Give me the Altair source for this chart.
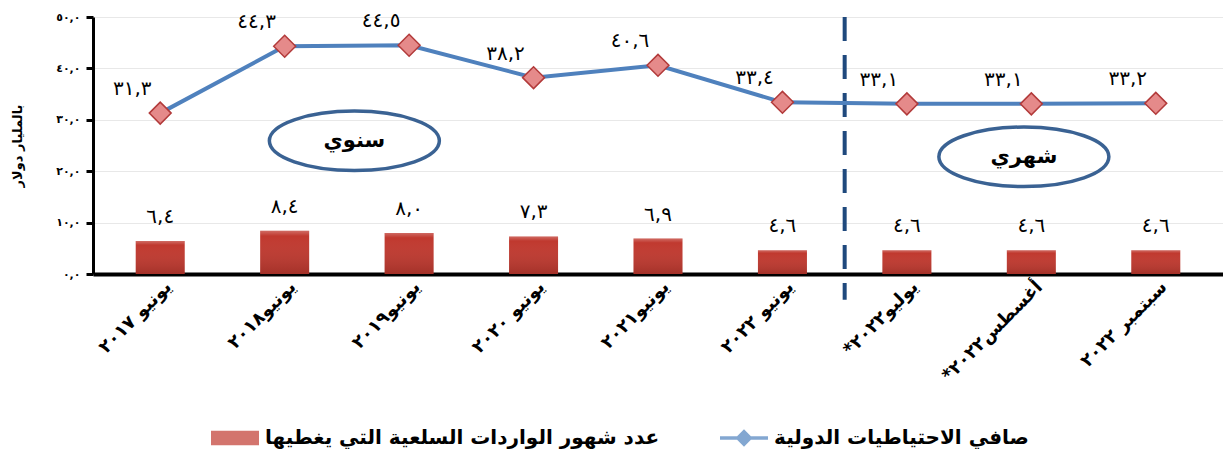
import json
import altair as alt
import pandas as pd

# ---------------- data ----------------
RLM = "\u200f"
categories = ["يونيو ٢٠١٧", "يونيو٢٠١٨", "يونيو٢٠١٩", "يونيو ٢٠٢٠", "يونيو٢٠٢١",
              "يونيو ٢٠٢٢", "يوليو٢٠٢٢*" + RLM, "أغسطس٢٠٢٢*" + RLM, "سبتمبر ٢٠٢٢"]
reserves = [31.3, 44.3, 44.5, 38.2, 40.6, 33.4, 33.1, 33.1, 33.2]
months_cover = [6.4, 8.4, 8.0, 7.3, 6.9, 4.6, 4.6, 4.6, 4.6]
y_ticks = [0, 10, 20, 30, 40, 50]
series_names = ["عدد شهور الواردات السلعية التي يغطيها", "صافي الاحتياطيات الدولية"]
y_title = "بالمليار دولار"
period_labels = ["سنوي", "شهري"]
period_x = [1.56, 6.94]
period_y = [25.9, 22.8]

AR = str.maketrans("0123456789", "٠١٢٣٤٥٦٧٨٩")


def ar_num(v):
    return f"{v:.1f}".replace(".", ",").translate(AR)


y_tick_labels = [ar_num(v) for v in y_ticks]

df = pd.DataFrame({
    "idx": list(range(len(categories))),
    "cat": categories,
    "reserves": reserves,
    "months": months_cover,
    "res_lbl": [ar_num(v) for v in reserves],
    "mon_lbl": [ar_num(v) for v in months_cover],
})
df_div = pd.DataFrame({"idx": [(5 + 6) / 2], "top": [50], "bottom": [-5]})
df_per = pd.DataFrame({"idx": period_x, "val": period_y, "txt": period_labels})

# ---------------- styles ----------------
FONT = "DejaVu Sans"
BAR = "#C0392F"
LINE = "#4F81BD"
NAVY = "#1F497D"

x_scale = alt.Scale(domain=[-0.5, len(categories) - 0.5], nice=False, zero=False)
y_scale = alt.Scale(domain=[0, 50], nice=False)

x_axis = alt.Axis(
    values=list(range(len(categories))),
    labelExpr=f"{json.dumps(categories, ensure_ascii=False)}[datum.value]",
    labelAngle=315, labelAlign="right", labelBaseline="middle",
    labelFont=FONT, labelFontSize=18, labelFontWeight="bold", labelColor="black",
    labelPadding=10, labelOffset=8, labelLimit=300,
    ticks=False, grid=False, domainColor="black", domainWidth=4, title=None,
)
y_axis = alt.Axis(
    values=y_ticks,
    labelExpr=f"{json.dumps(y_tick_labels, ensure_ascii=False)}[indexof({json.dumps(y_ticks)}, datum.value)]",
    labelFont=FONT, labelFontSize=11, labelFontWeight="bold", labelColor="black",
    labelPadding=6, tickSize=7, tickWidth=3, tickColor="black",
    domainColor="black", domainWidth=3, grid=True, gridColor="#E8E8E8", gridWidth=1,
    title=y_title, titleFont=FONT, titleFontSize=13, titleFontWeight="bold",
    titleColor="black", titlePadding=31,
)

X = alt.X("idx:Q", scale=x_scale, axis=x_axis)


def Y(field):
    return alt.Y(f"{field}:Q", scale=y_scale, axis=y_axis)


legend = alt.Legend(
    title=None, orient="none", legendX=118, legendY=397, direction="horizontal",
    labelFont=FONT, labelFontSize=20, labelFontWeight="bold", labelColor="black",
    symbolSize=2304, columnPadding=60, labelLimit=700, labelOffset=6,
    symbolStrokeWidth=0,
)
rect_path = "M-1,-0.3H1V0.3H-1Z"
line_path = "M-1,-0.07H1V0.07H-1Z M0,-0.36L0.36,0L0,0.36L-0.36,0Z"
color_enc = alt.Color("series:N", scale=alt.Scale(domain=series_names, range=[BAR, LINE]), legend=legend)
shape_enc = alt.Shape("series:N", scale=alt.Scale(domain=series_names, range=[rect_path, line_path]), legend=legend)

base = alt.Chart(df)

bars = base.transform_calculate(series=f"'{series_names[0]}'").mark_bar(size=49).encode(
    x=X, y=Y("months"), color=color_enc)

shine = base.mark_bar(size=49, fill=alt.Gradient(
    gradient="linear", x1=0, x2=0, y1=0, y2=1,
    stops=[alt.GradientStop(offset=0, color="rgba(255,255,255,0.25)"),
           alt.GradientStop(offset=0.12, color="rgba(255,255,255,0.0)"),
           alt.GradientStop(offset=1, color="rgba(0,0,0,0.15)")])).encode(x=X, y=Y("months"))

legend_layer = base.transform_filter("false").transform_calculate(series="'x'").mark_point(filled=True).encode(
    x=X, y=Y("reserves"), color=color_enc, shape=shape_enc)

divider = alt.Chart(df_div).mark_rule(color=NAVY, strokeWidth=4, strokeDash=[24, 14]).encode(
    x=X, y=Y("top"), y2="bottom:Q")

line = base.transform_calculate(series=f"'{series_names[1]}'").mark_line(strokeWidth=4).encode(
    x=X, y=Y("reserves"), color=color_enc)

points = base.mark_point(shape="diamond", filled=True, fill="#E58A8A", stroke="#B23A3A",
                         strokeWidth=1.5, size=480, opacity=1).encode(x=X, y=Y("reserves"))

res_text = base.mark_text(font=FONT, fontSize=20, color="black", dx=-28, dy=-24, baseline="middle").encode(
    x=X, y=Y("reserves"), text="res_lbl:N")

mon_text = base.mark_text(font=FONT, fontSize=20, color="black", dy=-14, baseline="bottom").encode(
    x=X, y=Y("months"), text="mon_lbl:N")

ellipse_path = "M-1,0A1,0.35,0,1,1,1,0A1,0.35,0,1,1,-1,0Z"
ellipses = alt.Chart(df_per).mark_point(shape=ellipse_path, size=170 * 170, filled=False,
                                        stroke="#3A6293", strokeWidth=3.5, opacity=1).encode(x=X, y=Y("val"))
ell_text = alt.Chart(df_per).mark_text(font=FONT, fontSize=21, fontWeight="bold", color="black").encode(
    x=X, y=Y("val"), text="txt:N")

chart = alt.layer(
    bars, shine, legend_layer, divider, line, points, res_text, mon_text, ellipses, ell_text
).properties(
    width=1130, height=257,
    autosize=alt.AutoSizeParams(type="none"),
    padding={"left": 85, "top": 9, "right": 0, "bottom": 175},
    background="white",
).configure_view(stroke=None)

chart.save("out.html", embed_options={"renderer": "svg", "actions": False})
